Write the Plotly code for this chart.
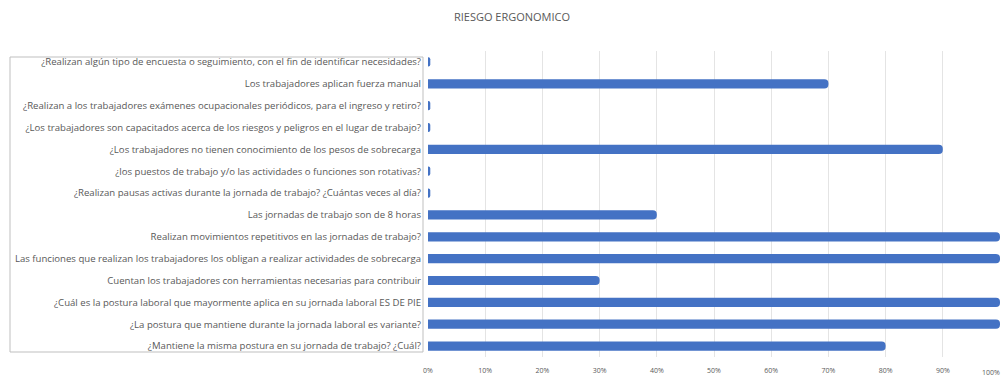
import plotly.graph_objects as go

categories = [
    "¿Realizan algún tipo de encuesta o seguimiento, con el fin de identificar necesidades?",
    "Los trabajadores aplican fuerza manual",
    "¿Realizan a los trabajadores exámenes ocupacionales periódicos, para el ingreso y retiro?",
    "¿Los trabajadores son capacitados acerca de los riesgos y peligros en el lugar de trabajo?",
    "¿Los trabajadores no tienen conocimiento de los pesos de sobrecarga",
    "¿los puestos de trabajo y/o las actividades o funciones son rotativas?",
    "¿Realizan pausas activas durante la jornada de trabajo? ¿Cuántas veces al día?",
    "Las jornadas de trabajo son de 8 horas",
    "Realizan movimientos repetitivos en las jornadas de trabajo?",
    "Las funciones que realizan los trabajadores los obligan a realizar actividades de sobrecarga",
    "Cuentan los trabajadores con herramientas necesarias para contribuir",
    "¿Cuál es la postura laboral que mayormente aplica en su jornada laboral ES DE PIE",
    "¿La postura que mantiene durante la jornada laboral es variante?",
    "¿Mantiene la misma postura en su jornada de trabajo? ¿Cuál?",
]
values = [0.004, 0.70, 0.004, 0.004, 0.90, 0.004, 0.004, 0.40, 1.00, 1.00, 0.30, 1.00, 1.00, 0.80]
tick_vals = [0, 0.1, 0.2, 0.3, 0.4, 0.5, 0.6, 0.7, 0.8, 0.9, 1.0]
tick_text = ["0%", "10%", "20%", "30%", "40%", "50%", "60%", "70%", "80%", "90%", "100%"]

W, H = 1003, 379
L, R, T, B = 428, 3, 51, 22
FONT = "Open Sans"
GREY = "#595959"

fig = go.Figure(go.Bar(
    x=values, y=categories, orientation="h",
    marker=dict(color="#4472C4", cornerradius=4, line=dict(width=0)),
    width=0.42,
))

pw = W - L - R
ph = H - T - B
fig.update_layout(
    width=W, height=H,
    margin=dict(l=L, r=R, t=T, b=B),
    paper_bgcolor="white", plot_bgcolor="white",
    title=dict(text="RIESGO ERGONOMICO", x=512 / W, xanchor="center", y=1 - 17 / H, yanchor="middle",
               font=dict(family=FONT, size=11, color=GREY)),
    showlegend=False,
    xaxis=dict(range=[0, 1.0], tickvals=tick_vals[:-1], ticktext=tick_text[:-1],
               showgrid=True, gridcolor="#E4E4E4", gridwidth=1, zeroline=False,
               tickfont=dict(family=FONT, size=7, color=GREY),
               ticks="", ticklabelstandoff=8, showline=False),
    yaxis=dict(autorange="reversed", showgrid=False, zeroline=False, showline=False, ticks="",
               tickfont=dict(family=FONT, size=9.6, color=GREY),
               ticklabelstandoff=6),
    shapes=[dict(type="rect", xref="paper", yref="paper",
                 x0=(10 - L) / pw, x1=(423 - L) / pw,
                 y0=(H - B - 352) / ph, y1=(H - B - 57) / ph,
                 line=dict(color="#BFBFBF", width=1), fillcolor="rgba(0,0,0,0)", layer="below")],
    annotations=[dict(text=tick_text[-1], x=tick_vals[-1], xref="x", y=-15 / ph, yref="paper",
                      xanchor="right", yanchor="middle", showarrow=False, xshift=2,
                      font=dict(family=FONT, size=7, color=GREY))],
)

fig.write_html("out.html")
